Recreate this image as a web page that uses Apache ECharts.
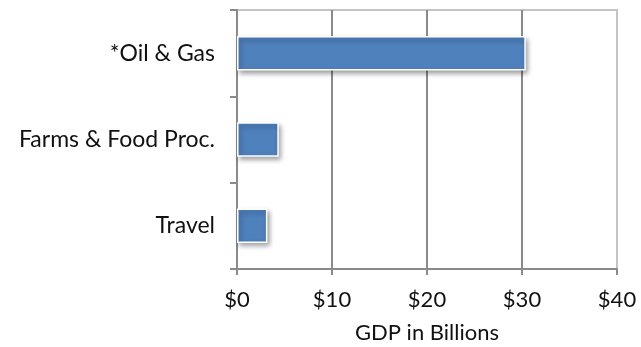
<!DOCTYPE html>
<html>
<head>
<meta charset="utf-8">
<script src="https://cdn.jsdelivr.net/npm/echarts@6/dist/echarts.min.js"></script>
<style>
  html, body { margin: 0; padding: 0; background: #fff; }
  #chart { width: 641px; height: 347px; }
</style>
</head>
<body>
<div id="chart"></div>
<script>
// GDP by sector, in billions of dollars
const categories = ['Travel', 'Farms & Food Proc.', '*Oil & Gas'];
const gdpValues = [3.2, 4.4, 30.4];
const axisTitle = 'GDP in Billions';

const FONT = 'Lato';
const chart = echarts.init(document.getElementById('chart'), null, { renderer: 'canvas' });

chart.setOption({
  animation: false,
  grid: {
    left: 237, right: 24, top: 10, bottom: 78,
    outerBoundsMode: 'none',
    containLabel: false,
    show: true, borderColor: '#c4c4c4', borderWidth: 2
  },
  xAxis: {
    type: 'value',
    min: 0, max: 40, interval: 10,
    name: axisTitle,
    nameLocation: 'middle',
    nameGap: 53,
    nameTextStyle: { fontFamily: FONT, fontSize: 22, color: '#111' },
    axisLine: { show: true, lineStyle: { color: '#8a8a8a', width: 2 } },
    axisTick: { show: true, length: 6, lineStyle: { color: '#8a8a8a', width: 2 } },
    axisLabel: {
      formatter: v => '$' + v,
      fontFamily: FONT, fontSize: 22, color: '#111', margin: 20
    },
    splitLine: { show: true, showMinLine: false, showMaxLine: false, lineStyle: { color: '#8a8a8a', width: 2 } }
  },
  yAxis: {
    type: 'category',
    data: categories,
    axisLine: { show: true, lineStyle: { color: '#8a8a8a', width: 2 } },
    axisTick: { show: true, length: 7, lineStyle: { color: '#8a8a8a', width: 2 } },
    axisLabel: { fontFamily: FONT, fontSize: 23, color: '#111', margin: 22 },
    splitLine: { show: false }
  },
  series: [{
    type: 'bar',
    data: gdpValues,
    barCategoryGap: '60%',
    itemStyle: {
      color: '#4f81bd',
      borderColor: '#ffffff',
      borderWidth: 1.5,
      shadowColor: 'rgba(0,0,0,0.4)',
      shadowBlur: 5,
      shadowOffsetX: 2,
      shadowOffsetY: 3
    }
  }]
});
</script>
</body>
</html>
